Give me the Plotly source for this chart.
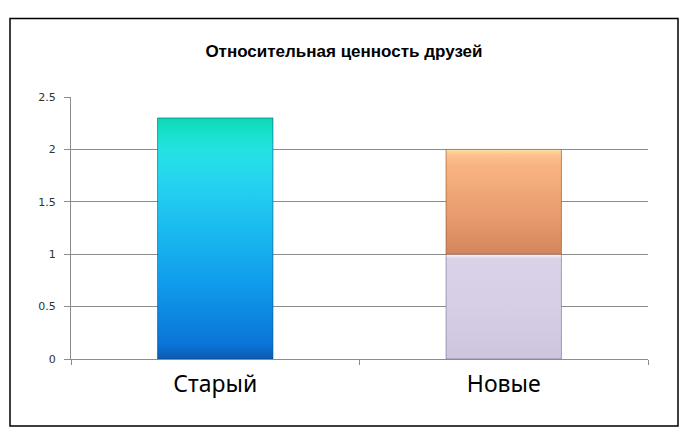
import plotly.graph_objects as go

# data
categories = ["Старый", "Новые"]
first_part = [2.3, 1.0]
second_part = [0.0, 1.0]
y_ticks = [0, 0.5, 1, 1.5, 2, 2.5]
y_ticklabels = ["0", "0.5", "1", "1.5", "2", "2.5"]

BAR_W = 0.4
GRID = "#8c8c8c"

# vertical gradients (bottom -> top), imitating the Excel 2007 look
first_scales = [
    [[0, "#0a5ab2"], [0.06, "#0b74d8"], [0.3, "#0f9aeb"], [0.55, "#1bbcef"],
     [0.75, "#26d6ef"], [0.87, "#24e2e2"], [0.95, "#14e0c6"], [1, "#10d6b6"]],
    [[0, "#cdc4de"], [0.5, "#d7cee6"], [0.96, "#dad2e8"], [1, "#fbfaff"]],
]
second_scale = [[0, "#d3865b"], [0.4, "#e99d70"], [0.85, "#f9b482"],
                [0.95, "#fcc390"], [1, "#fde3a6"]]
first_edges = ["rgba(10,70,120,0.55)", "rgba(120,110,140,0.6)"]
second_edge = "rgba(140,80,50,0.6)"

x_pos = list(range(len(categories)))

fig = go.Figure()
fig.add_bar(x=x_pos, y=first_part, width=BAR_W,
            marker=dict(color=["#19b5ee", "#d7cee6"], line=dict(width=0)),
            hoverinfo="skip", showlegend=False)
fig.add_bar(x=x_pos, y=second_part, width=BAR_W,
            marker=dict(color="#eca070", line=dict(width=0)),
            hoverinfo="skip", showlegend=False)


def gradient_segment(i, base, top, scale, edge):
    left, right = i - BAR_W / 2, i + BAR_W / 2
    return go.Scatter(
        x=[left, right, right, left, left],
        y=[base, base, top, top, base],
        mode="lines",
        fill="toself",
        fillgradient=dict(type="vertical", colorscale=scale),
        line=dict(color=edge, width=1),
        hoverinfo="skip",
        showlegend=False,
    )


for i in x_pos:
    fig.add_trace(gradient_segment(i, 0, first_part[i], first_scales[i], first_edges[i]))
    if second_part[i] > 0:
        top = first_part[i] + second_part[i]
        fig.add_trace(gradient_segment(i, first_part[i], top, second_scale, second_edge))

# the page body adds an 8px offset, so the figure is 8px smaller than the window
fig.update_layout(
    width=692,
    height=430,
    margin=dict(l=63, r=52, t=89, b=79),
    paper_bgcolor="white",
    plot_bgcolor="white",
    barmode="stack",
    title=dict(
        text="<b>Относительная ценность друзей</b>",
        x=0.4855,
        xanchor="center",
        y=0.9,
        yanchor="middle",
        font=dict(family="Liberation Sans, Arial", size=17, color="black"),
    ),
    xaxis=dict(
        range=[-0.5, 1.5],
        tickmode="array",
        tickvals=x_pos,
        ticktext=categories,
        ticks="",
        ticklabelstandoff=4,
        showgrid=False,
        zeroline=False,
        showline=True,
        linecolor=GRID,
        linewidth=1,
        tickfont=dict(family="Noto Sans, Open Sans", size=23, color="black"),
        minor=dict(tickmode="array", tickvals=[-0.5, 0.5, 1.5], ticks="outside",
                   ticklen=5, tickcolor=GRID, showgrid=False),
    ),
    yaxis=dict(
        range=[0, 2.5],
        tickmode="array",
        tickvals=y_ticks,
        ticktext=y_ticklabels,
        ticks="outside",
        ticklen=6,
        tickcolor=GRID,
        ticklabelstandoff=6,
        showline=True,
        linecolor=GRID,
        gridcolor=GRID,
        gridwidth=1,
        zeroline=False,
        tickfont=dict(family="DejaVu Sans, Verdana", size=11, color="#333"),
    ),
    shapes=[
        dict(type="rect", xref="paper", yref="paper",
             x0=-0.1057, x1=1.052, y0=-0.2554, y1=1.300,
             line=dict(color="black", width=1.5), layer="below"),
    ],
)

fig.write_html("out.html")
